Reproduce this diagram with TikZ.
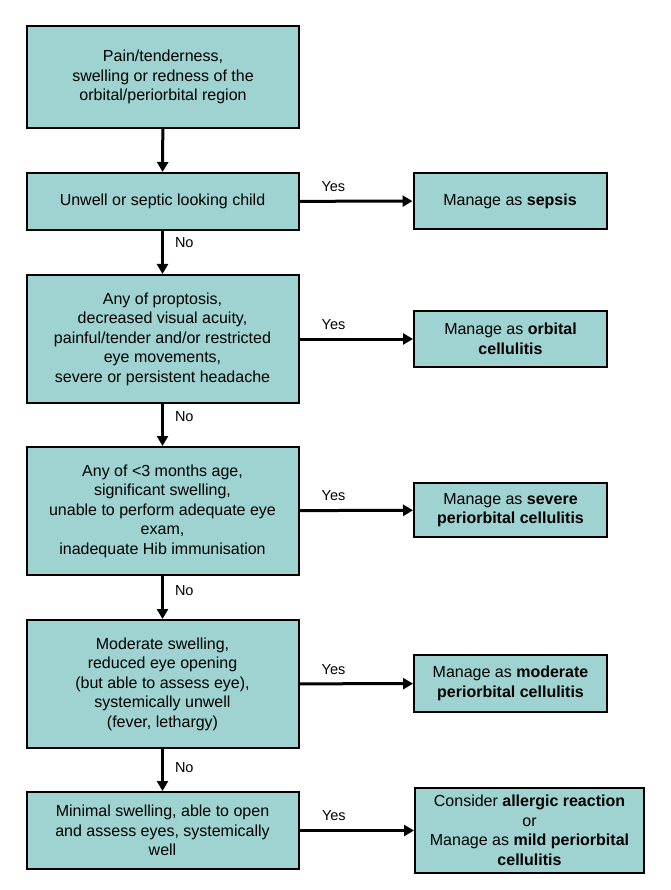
\documentclass[tikz,border=0pt]{standalone}
\usepackage{fontspec}
\setmainfont{Liberation Sans}
\usetikzlibrary{arrows.meta}
\definecolor{boxfill}{RGB}{159,211,210}
\tikzset{
  box/.style={draw=black, line width=2pt, fill=boxfill, inner sep=0pt, align=center,
    font=\fontsize{16}{19.5}\selectfont},
  arr/.style={line width=3pt, -{Triangle[length=10pt,width=11pt]}},
  lbl/.style={font=\fontsize{14.5}{17}\selectfont, inner sep=0pt}
}
\begin{document}
\begin{tikzpicture}[x=1pt, y=-1pt]
\useasboundingbox (0,0) rectangle (670,890);
\node[box, minimum width=272pt, minimum height=102pt] (pain) at (163,77)
  {Pain/tenderness,\\swelling or redness of the\\orbital/periorbital region};
\node[box, minimum width=272pt, minimum height=57pt] (unwell) at (162.5,201.5)
  {Unwell or septic looking child};
\node[box, minimum width=193pt, minimum height=56pt] (sepsis) at (510,201)
  {Manage as \textbf{sepsis}};
\node[box, minimum width=272pt, minimum height=128pt] (proptosis) at (162.5,339)
  {Any of proptosis,\\decreased visual acuity,\\painful/tender and/or restricted\\eye movements,\\severe or persistent headache};
\node[box, minimum width=193pt, minimum height=56pt] (orbital) at (510.5,339)
  {Manage as \textbf{orbital}\\\textbf{cellulitis}};
\node[box, minimum width=272pt, minimum height=128pt] (severe) at (162.5,511)
  {Any of <3 months age,\\significant swelling,\\unable to perform adequate eye\\exam,\\inadequate Hib immunisation};
\node[box, minimum width=193pt, minimum height=54pt] (severemgmt) at (510.5,510)
  {Manage as \textbf{severe}\\\textbf{periorbital cellulitis}};
\node[box, minimum width=272pt, minimum height=128pt] (moderate) at (162.5,684)
  {Moderate swelling,\\reduced eye opening\\(but able to assess eye),\\systemically unwell\\(fever, lethargy)};
\node[box, minimum width=193pt, minimum height=57pt] (moderatemgmt) at (510.5,683.5)
  {Manage as \textbf{moderate}\\\textbf{periorbital cellulitis}};
\node[box, minimum width=272pt, minimum height=77pt] (minimal) at (162.5,830.5)
  {Minimal swelling, able to open\\and assess eyes, systemically\\well};
\node[box, minimum width=229pt, minimum height=85pt] (mild) at (529.5,830.5)
  {Consider \textbf{allergic reaction}\\or\\Manage as \textbf{mild periorbital}\\\textbf{cellulitis}};
% downward path
\draw[arr] (pain) -- (unwell);
\draw[arr] (unwell) -- node[lbl, pos=0.28, right=11pt] {No} (proptosis);
\draw[arr] (proptosis) -- node[lbl, pos=0.3, right=11pt] {No} (severe);
\draw[arr] (severe) -- node[lbl, pos=0.35, right=11pt] {No} (moderate);
\draw[arr] (moderate) -- node[lbl, pos=0.45, right=11pt] {No} (minimal);
% yes branches
\draw[arr] (unwell) -- node[lbl, pos=0.3, above=8pt] {Yes} (sepsis);
\draw[arr] (proptosis) -- node[lbl, pos=0.3, above=8pt] {Yes} (orbital);
\draw[arr] (severe) -- node[lbl, pos=0.3, above=8pt] {Yes} (severemgmt);
\draw[arr] (moderate) -- node[lbl, pos=0.3, above=8pt] {Yes} (moderatemgmt);
\draw[arr] (minimal) -- node[lbl, pos=0.3, above=8pt] {Yes} (mild);
\end{tikzpicture}
\end{document}
